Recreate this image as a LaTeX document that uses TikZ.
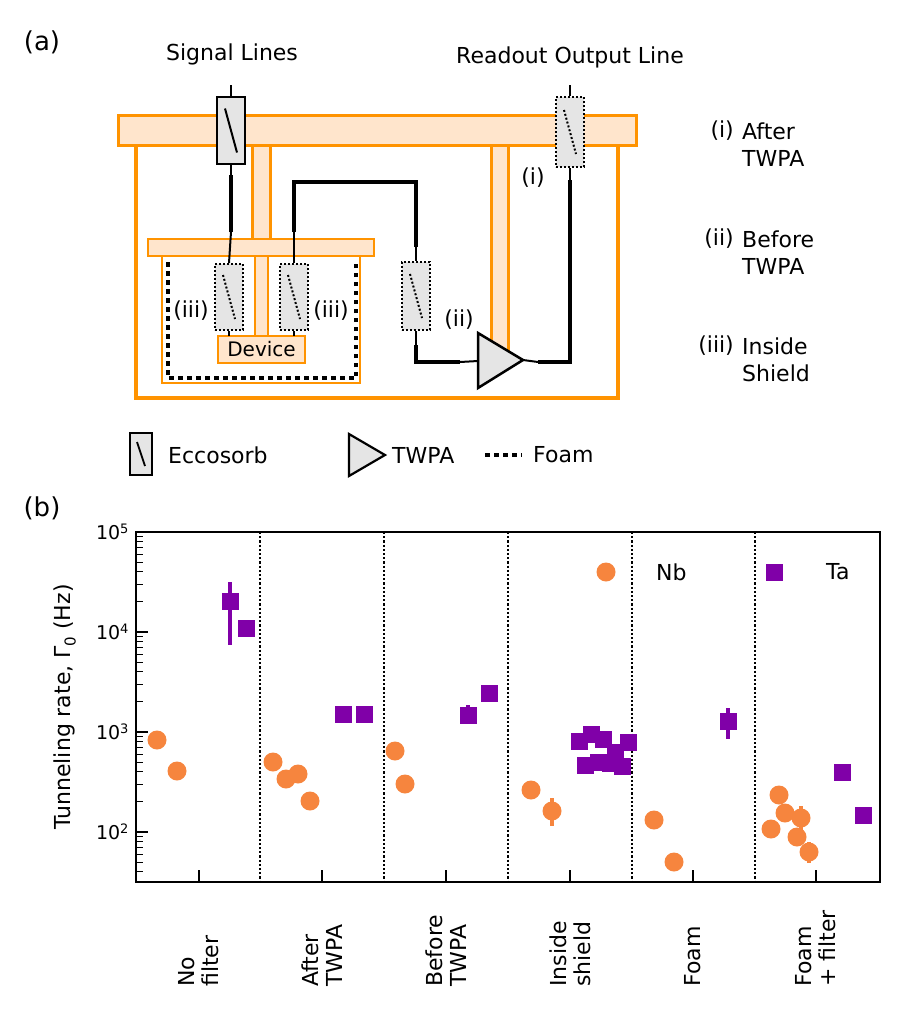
\documentclass[tikz,border=0pt]{standalone}
\usepackage{fontspec}
\setmainfont{DejaVu Sans}
\begin{document}
\begin{tikzpicture}[x=1pt,y=-1pt,
  orng/.style={draw=orange!85!yellow, line width=3.5pt},
  plate/.style={draw=orange!85!yellow, fill=orange!20, line width=3pt},
  ecs/.style={draw=black, fill=black!10, line width=2pt},
  ecd/.style={draw=black, fill=black!10, line width=2pt, dotted},
  thin/.style={line width=2pt},
  thick/.style={line width=4.5pt},
  nb/.style={circle, fill=nbc, inner sep=0pt, minimum size=19pt},
  ta/.style={rectangle, fill=tac, inner sep=0pt, minimum size=17pt},
  lbl/.style={font=\fontsize{22}{27}\selectfont, inner sep=0pt},
  plbl/.style={font=\fontsize{26}{30}\selectfont, inner sep=0pt},
  cat/.style={font=\fontsize{22}{24}\selectfont, rotate=90, anchor=west, align=left, inner sep=0pt}]
\definecolor{nbc}{RGB}{246,133,62}
\definecolor{tac}{RGB}{128,0,168}
\useasboundingbox (0,0) rectangle (916,1020);
% ---------------- (a)
\node[plbl] (la) at (42,42) {(a)};
\node[lbl] (sl) at (232,54) {Signal Lines};
\node[lbl] (ro) at (570,57) {Readout Output Line};
\draw[orng] (136,145) -- (136,398) -- (618,398) -- (618,145);
\draw[plate] (252,145) rectangle (270,240);
\draw[plate] (491,145) rectangle (508,352);
\draw[plate] (118,115) rectangle (636,145);
\draw[draw=orange!85!yellow, line width=2.5pt] (162,256) rectangle (360,383);
\draw[plate, line width=2.5pt] (255,256) rectangle (268,336);
\draw[plate, line width=2.5pt] (148,239) rectangle (374,256);
\draw[line width=4.5pt, dash pattern=on 4.5pt off 4.5pt] (168,262) -- (168,378) -- (356,378) -- (356,262);
\node[draw=orange!85!yellow, fill=orange!20, line width=2.5pt, minimum width=87pt, minimum height=27pt, inner sep=0pt, font=\fontsize{20}{24}\selectfont] (dev) at (261.5,349.5) {Device};
% signal line
\coordinate (s0) at (231,85);
\node[ecs, minimum width=28pt, minimum height=67pt, inner sep=0pt] (e1) at (231,130.5) {};
\draw[line width=2pt] ([shift={(-6,-22)}]e1.center) -- ([shift={(6,22)}]e1.center);
\draw[thin] (s0) -- (e1.north);
\node[ecd, minimum width=28pt, minimum height=66pt, inner sep=0pt] (e3a) at (229,297) {};
\draw[line width=2pt, dotted] ([shift={(-6,-22)}]e3a.center) -- ([shift={(6,22)}]e3a.center);
\draw[thin] (e1.south) -- (231,175);
\draw[thick] (231,175) -- (231,232);
\draw[thin] (231,232) -- (e3a.north);
\draw[thin] (e3a.south) -- (229,336);
% right line
\node[ecd, minimum width=28pt, minimum height=66pt, inner sep=0pt] (e3b) at (294,297) {};
\draw[line width=2pt, dotted] ([shift={(-6,-22)}]e3b.center) -- ([shift={(6,22)}]e3b.center);
\draw[thin] (e3b.south) -- (294,336);
\node[ecd, minimum width=28pt, minimum height=68pt, inner sep=0pt] (e2) at (416,296) {};
\draw[line width=2pt, dotted] ([shift={(-6,-22)}]e2.center) -- ([shift={(6,22)}]e2.center);
\draw[thin] (e3b.north) -- (294,232);
\draw[thick] (294,232) -- (294,182) -- (416,182) -- (416,247);
\draw[thin] (416,247) -- (e2.north);
\draw[thin] (e2.south) -- (416,345);
\draw[thick] (416,345) -- (416,362) -- (460,362);
\draw[line width=2.5pt, fill=black!10] (478,333) -- (523,360) -- (478,388) -- cycle;
\coordinate (ampin) at (478,361);
\coordinate (ampout) at (523,360);
\draw[thin] (460,362) -- (ampin);
\draw[thin] (ampout) -- (538,362);
\node[ecd, minimum width=28pt, minimum height=70pt, inner sep=0pt] (e0) at (570,132) {};
\draw[line width=2pt, dotted] ([shift={(-6,-22)}]e0.center) -- ([shift={(6,22)}]e0.center);
\draw[thick] (538,362) -- (570,362) -- (570,180);
\draw[thin] (570,180) -- (e0.south);
\draw[thin] (570,85) -- (e0.north);
\node[lbl] (ti) at (533,178) {(i)};
\node[lbl] (tii) at (459,320) {(ii)};
\node[lbl] (tiiia) at (191,311) {(iii)};
\node[lbl] (tiiib) at (331,311) {(iii)};
% right notes
\node[lbl, anchor=east] (n1) at (734,131) {(i)};
\node[lbl, anchor=west, align=left] (n1t) at (742,145) {After\\TWPA};
\node[lbl, anchor=east] (n2) at (734,239) {(ii)};
\node[lbl, anchor=west, align=left] (n2t) at (742,253) {Before\\TWPA};
\node[lbl, anchor=east] (n3) at (734,346) {(iii)};
\node[lbl, anchor=west, align=left] (n3t) at (742,360) {Inside\\Shield};
% legend
\node[ecs, minimum width=22pt, minimum height=42pt, inner sep=0pt] (le) at (141,454) {};
\draw[line width=1.8pt] ([shift={(-4,-12)}]le.center) -- ([shift={(4,12)}]le.center);
\node[lbl, anchor=west] (let) at (168,455) {Eccosorb};
\draw[line width=2.2pt, fill=black!10] (349,434) -- (385,455) -- (349,476) -- cycle;
\node[lbl, anchor=west] (ltw) at (392,455) {TWPA};
\coordinate (f1) at (485,455); \coordinate (f2) at (522,455);
\draw[line width=4.5pt, dash pattern=on 5pt off 4pt] (f1) -- (f2);
\node[lbl, anchor=west] (lfo) at (533,455) {Foam};
% ---------------- (b)
\node[plbl] (lb) at (42,508) {(b)};
\foreach \x in {260,384,508,632,755} \draw[line width=2.2pt, dotted] (\x,532) -- (\x,882);
\foreach \d/\v in {1/5,2/4,3/3,4/2} {
  \draw[line width=1.3pt] (136,{532+(\d-1)*100}) -- (148,{532+(\d-1)*100});
  \node[font=\fontsize{19}{22}\selectfont, anchor=east] at (132,{532+(\d-1)*100}) {10\raisebox{0.6ex}{\fontsize{13}{14}\selectfont\v}};
}
\foreach \d in {2,3,4} \foreach \m in {2,...,9}
  \draw[line width=1pt] (136,{532+(5-\d-log10(\m))*100}) -- (143,{532+(5-\d-log10(\m))*100});
\foreach \m in {4,...,9}
  \draw[line width=1pt] (136,{532+(4-log10(\m))*100}) -- (143,{532+(4-log10(\m))*100});
\foreach \x in {199,322,446,570,693,816} \draw[line width=1.3pt] (\x,882) -- (\x,870);
\draw[line width=2pt] (136,532) rectangle (880,882);
\node[font=\fontsize{22}{26}\selectfont, rotate=90] (yl) at (65,707) {Tunneling rate, Γ\raisebox{-0.4ex}{\fontsize{15}{16}\selectfont 0} (Hz)};
% error bars
\foreach \x/\a/\b in {230/582/645, 728/708/739, 468/705/722, 863/808/822}
  \draw[line width=3.5pt, color=tac] (\x,\a) -- (\x,\b);
\draw[line width=3.5pt, color=nbc] (552,798) -- (552,826);
\draw[line width=3.5pt, color=nbc] (801,806) -- (801,830);
\draw[line width=3.5pt, color=nbc] (809,842) -- (809,863);
% Ta
\foreach \x/\y [count=\i] in {230/601,246/628,343/714,364/714,468/715,489/693,
  579/741,591/734,603/739,628/742,585/765,598/762,610/763,622/766,615/752,
  728/721,842/772,863/815}
  \node[ta] (ta\i) at (\x,\y) {};
% Nb
\foreach \x/\y [count=\i] in {157/740,177/771,273/762,286/779,298/774,310/801,395/751,405/784,
  531/790,552/811,654/820,674/862,771/829,779/795,785/813,801/818,797/837,809/852}
  \node[nb] (nb\i) at (\x,\y) {};
% legend b
\node[nb] (lnb) at (606,572) {};
\node[lbl, anchor=west] (lnbt) at (656,572) {Nb};
\node[ta] (lta) at (774,572) {};
\node[lbl, anchor=west] (ltat) at (826,572) {Ta};
% categories
\node[cat] (c1) at (199,987) {No\\filter};
\node[cat] (c2) at (322,987) {After\\TWPA};
\node[cat] (c3) at (446,987) {Before\\TWPA};
\node[cat] (c4) at (570,987) {Inside\\shield};
\node[cat] (c5) at (693,987) {Foam};
\node[cat] (c6) at (816,987) {Foam\\+ filter};
\end{tikzpicture}
\end{document}
